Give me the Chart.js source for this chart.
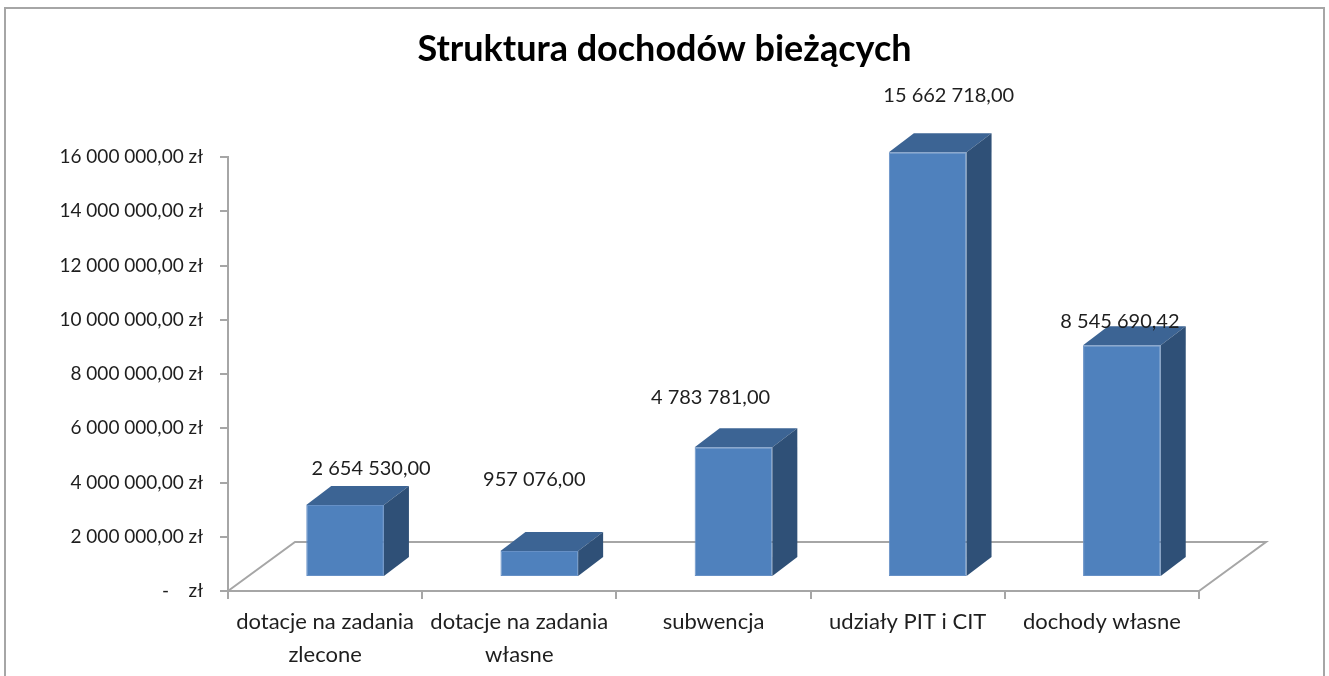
<!DOCTYPE html>
<html lang="pl">
<head>
<meta charset="utf-8">
<title>Struktura dochodów bieżących</title>
<script src="https://cdn.jsdelivr.net/npm/chart.js@4.4.1/dist/chart.umd.min.js"></script>
<style>
  html, body { margin: 0; padding: 0; background: #fff; }
  #frame { position: absolute; left: 4px; top: 7px; width: 1317px; height: 720px; border: 2px solid #a6a6a6; }
  #chart { position: absolute; left: 0; top: 0; }
</style>
</head>
<body>
<div id="frame"></div>
<canvas id="chart" width="1329" height="676"></canvas>
<script>
// data
const categories = [
  ['dotacje na zadania', 'zlecone'],
  ['dotacje na zadania', 'własne'],
  'subwencja',
  'udziały PIT i CIT',
  'dochody własne'
];
const values = [2654530.00, 957076.00, 4783781.00, 15662718.00, 8545690.42];
const yTickLabels = [
  '-    zł',
  '2 000 000,00 zł',
  '4 000 000,00 zł',
  '6 000 000,00 zł',
  '8 000 000,00 zł',
  '10 000 000,00 zł',
  '12 000 000,00 zł',
  '14 000 000,00 zł',
  '16 000 000,00 zł'
];

// 3d look (pixels)
const FLOOR = { x: 67, y: -49 };   // depth of the floor
const FRONT = { x: 20, y: -14 };   // where the bar front sits on the floor
const DEPTH = { x: 25, y: -19 };   // depth of a bar
const labelOffset = [[26, -36], [-5, -71], [-23, -50], [21, -57], [-2, -24]];

const AXIS = '#a6a6a6';
const TEXT = '#1e1e1e';

function plMoney(v) {
  const [int, dec] = v.toFixed(2).split('.');
  return int.replace(/\B(?=(\d{3})+(?!\d))/g, ' ') + ',' + dec;
}

const box3d = {
  id: 'box3d',
  beforeDatasetsDraw(chart) {
    const { ctx, chartArea: a } = chart;
    ctx.save();
    ctx.strokeStyle = AXIS;
    ctx.lineWidth = 2;
    ctx.beginPath();
    ctx.moveTo(a.left, a.bottom);
    ctx.lineTo(a.left + FLOOR.x, a.bottom + FLOOR.y);
    ctx.lineTo(a.right + FLOOR.x, a.bottom + FLOOR.y);
    ctx.lineTo(a.right, a.bottom);
    ctx.stroke();
    ctx.restore();
    // bars are drawn by chart.js, shifted back onto the floor
    ctx.save();
    ctx.translate(FRONT.x, FRONT.y);
  },
  afterDatasetsDraw(chart) {
    const ctx = chart.ctx;
    const bars = chart.getDatasetMeta(0).data;
    bars.forEach(bar => {
      const { x, y, base, width } = bar.getProps(['x', 'y', 'base', 'width'], true);
      const l = x - width / 2, r = x + width / 2;
      ctx.fillStyle = '#3c6494';
      ctx.beginPath();
      ctx.moveTo(l, y);
      ctx.lineTo(l + DEPTH.x, y + DEPTH.y);
      ctx.lineTo(r + DEPTH.x, y + DEPTH.y);
      ctx.lineTo(r, y);
      ctx.closePath();
      ctx.fill();
      ctx.fillStyle = '#2f5077';
      ctx.beginPath();
      ctx.moveTo(r, y);
      ctx.lineTo(r + DEPTH.x, y + DEPTH.y);
      ctx.lineTo(r + DEPTH.x, base + DEPTH.y);
      ctx.lineTo(r, base);
      ctx.closePath();
      ctx.fill();
    });
    ctx.restore();

    ctx.save();
    ctx.font = '20px Lato';
    ctx.fillStyle = TEXT;
    ctx.textAlign = 'center';
    ctx.textBaseline = 'middle';
    bars.forEach((bar, i) => {
      const { x, y } = bar.getProps(['x', 'y'], true);
      const off = labelOffset[i];
      ctx.fillText(plMoney(values[i]), x + FRONT.x + off[0], y + FRONT.y + off[1]);
    });
    ctx.restore();
  }
};

Chart.defaults.font.family = 'Lato';
Chart.defaults.color = TEXT;

new Chart(document.getElementById('chart'), {
  type: 'bar',
  data: {
    labels: categories,
    datasets: [{
      data: values,
      backgroundColor: '#4f81bd',
      borderColor: '#6690c6',
      borderWidth: 1,
      borderSkipped: false,
      categoryPercentage: 1,
      barPercentage: 0.4,
      clip: false
    }]
  },
  options: {
    responsive: false,
    animation: false,
    events: [],
    layout: { padding: 0 },
    plugins: {
      legend: { display: false },
      tooltip: { enabled: false },
      title: {
        display: true,
        text: 'Struktura dochodów bieżących',
        color: '#000',
        font: { family: 'Lato', size: 36, weight: 'bold', lineHeight: 1.2 },
        padding: { top: 27.4, bottom: 86.4 }
      }
    },
    scales: {
      x: {
        grid: { display: true, drawOnChartArea: false, offset: true, tickLength: 8, color: AXIS, lineWidth: 2 },
        border: { display: true, color: AXIS, width: 2 },
        ticks: { font: { size: 22, lineHeight: 1.5 }, padding: 6, maxRotation: 0, autoSkip: false, color: TEXT },
        afterFit(scale) { scale.height = 85; }
      },
      y: {
        min: 0,
        max: 16000000,
        grid: { display: true, drawOnChartArea: false, tickLength: 8, color: AXIS, lineWidth: 2 },
        border: { display: true, color: AXIS, width: 2 },
        ticks: {
          stepSize: 2000000,
          padding: 17,
          font: { size: 19 },
          color: TEXT,
          callback: (v, i) => yTickLabels[i]
        },
        afterFit(scale) { scale.width = 228; }
      },
      // empty space on the right, keeps the title centred on the page
      right: {
        position: 'right',
        display: true,
        grid: { display: false },
        border: { display: false },
        ticks: { display: false },
        afterFit(scale) { scale.width = 130; }
      }
    }
  },
  plugins: [box3d]
});
</script>
</body>
</html>
